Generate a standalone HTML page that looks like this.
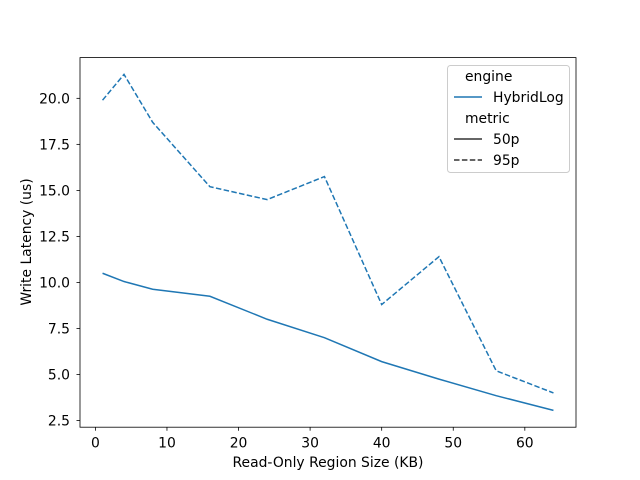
<!DOCTYPE html>
<html><head><meta charset="utf-8"><style>
body{margin:0;background:#fff}
svg{display:block;font-family:"DejaVu Sans","Liberation Sans",sans-serif}
</style></head><body>
<svg id="c" width="640" height="480" viewBox="0 0 640 480">
<rect width="640" height="480" fill="#fff"/>
<g id="plot"></g>
<rect x="80" y="57.6" width="496" height="369.6" fill="none" stroke="#000" stroke-width="0.8"/>
<text x="328" y="467" font-size="13.9" text-anchor="middle">Read-Only Region Size (KB)</text>
<text transform="translate(31,242) rotate(-90)" font-size="13.9" text-anchor="middle">Write Latency (us)</text>
<g>
<rect x="447.5" y="65.5" width="122" height="107" rx="3" fill="#fff" fill-opacity="0.8" stroke="#ccc"/>
<text x="465" y="81" font-size="13.9">engine</text>
<line x1="454" y1="97" x2="482" y2="97" stroke="#1f77b4" stroke-width="1.5"/>
<text x="493" y="102" font-size="13.9">HybridLog</text>
<text x="465" y="123" font-size="13.9">metric</text>
<line x1="454" y1="139" x2="482" y2="139" stroke="#333" stroke-width="1.5"/>
<text x="493" y="144" font-size="13.9">50p</text>
<line x1="454" y1="160" x2="482" y2="160" stroke="#333" stroke-width="1.5" stroke-dasharray="5.5,2.4"/>
<text x="493" y="165" font-size="13.9">95p</text>
</g>
</svg>
<script>
const xValues=[1,4,8,16,24,32,40,48,56,64];
const p50=[10.5,10.05,9.63,9.25,8.0,7.0,5.7,4.75,3.85,3.05];
const p95=[19.9,21.3,18.7,15.2,14.5,15.75,8.8,11.4,5.2,4.0];
const xTicks=[0,10,20,30,40,50,60];
const yTicks=[2.5,5.0,7.5,10.0,12.5,15.0,17.5,20.0];
const X0=80,X1=576,Y0=427.2,Y1=57.6;
const xmin=-2.15,xmax=67.15,ymin=2.1375,ymax=22.2125;
const sx=v=>X0+(v-xmin)/(xmax-xmin)*(X1-X0);
const sy=v=>Y0-(v-ymin)/(ymax-ymin)*(Y0-Y1);
const NS="http://www.w3.org/2000/svg";
const g=document.getElementById('plot');
function mk(t,a){const e=document.createElementNS(NS,t);for(const k in a)e.setAttribute(k,a[k]);g.appendChild(e);return e;}
xTicks.forEach(t=>{
  const l=mk('line',{x1:sx(t),x2:sx(t),y1:Y0,y2:Y0+3.5,stroke:'#000','stroke-width':0.8});
  
  
  const tx=mk('text',{x:sx(t),y:Y0+20.5,'font-size':13.9,'text-anchor':'middle'});
  tx.textContent=t;
  
  
});
yTicks.forEach(t=>{
  const l=mk('line',{x1:X0-3.5,x2:X0,y1:sy(t),y2:sy(t),stroke:'#000','stroke-width':0.8});
  
  
  const tx=mk('text',{x:X0-10,y:sy(t)+5,'font-size':13.9,'text-anchor':'end'});
  tx.textContent=t.toFixed(1);
  
  
});
const pts=a=>a.map((v,i)=>sx(xValues[i])+','+sy(v)).join(' ');
const l50=mk('polyline',{points:pts(p50),fill:'none',stroke:'#1f77b4','stroke-width':1.5});


const l95=mk('polyline',{points:pts(p95),fill:'none',stroke:'#1f77b4','stroke-width':1.5,'stroke-dasharray':'5.5,2.4'});


</script>
</body></html>
